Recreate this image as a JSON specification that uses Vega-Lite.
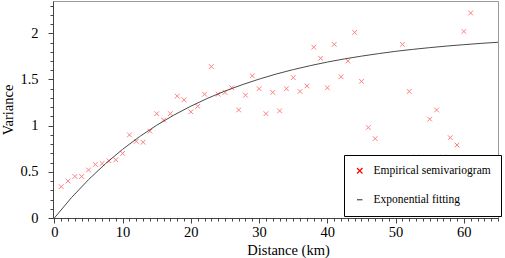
{
  "$schema": "https://vega.github.io/schema/vega-lite/v6.json",
  "width": 445,
  "height": 217,
  "autosize": {"type": "none"},
  "padding": {"left": 53, "top": 1, "right": 7, "bottom": 40},
  "background": "white",
  "config": {
    "view": {"stroke": "#9a9a9a", "strokeWidth": 1},
    "font": "Liberation Serif",
    "style": {"guide-label": {"font": "Liberation Serif"}, "guide-title": {"font": "Liberation Serif"}},
    "axis": {"grid": false, "labelFont": "Liberation Serif", "titleFont": "Liberation Serif", "labelColor": "#000", "titleColor": "#000", "domainColor": "#444", "tickColor": "#444", "labelFontSize": 14.5, "titleFontSize": 14.5, "titleFontWeight": "normal"},
    "legend": {"title": null, "orient": "none", "legendX": 291, "legendY": 154,
      "strokeColor": "#000", "fillColor": "#fff", "padding": 10, "rowPadding": 16,
      "labelFont": "Liberation Serif", "labelFontSize": 11.5, "labelColor": "#000", "labelOffset": 8,
      "symbolSize": 30, "symbolStrokeWidth": 1.2, "symbolOpacity": 1, "symbolFillColor": "transparent"}
  },
  "datasets": {
    "emp": [
      {"d": 1, "v": 0.34}, {"d": 2, "v": 0.40}, {"d": 3, "v": 0.45}, {"d": 4, "v": 0.45},
      {"d": 5, "v": 0.52}, {"d": 6, "v": 0.58}, {"d": 7, "v": 0.59}, {"d": 8, "v": 0.62},
      {"d": 9, "v": 0.63}, {"d": 10, "v": 0.70}, {"d": 11, "v": 0.90}, {"d": 12, "v": 0.83},
      {"d": 13, "v": 0.82}, {"d": 14, "v": 0.94}, {"d": 15, "v": 1.13}, {"d": 16, "v": 1.06},
      {"d": 17, "v": 1.13}, {"d": 18, "v": 1.32}, {"d": 19, "v": 1.28}, {"d": 20, "v": 1.15},
      {"d": 21, "v": 1.21}, {"d": 22, "v": 1.34}, {"d": 23, "v": 1.64}, {"d": 24, "v": 1.34},
      {"d": 25, "v": 1.36}, {"d": 26, "v": 1.41}, {"d": 27, "v": 1.17}, {"d": 28, "v": 1.33},
      {"d": 29, "v": 1.54}, {"d": 30, "v": 1.40}, {"d": 31, "v": 1.13}, {"d": 32, "v": 1.36},
      {"d": 33, "v": 1.16}, {"d": 34, "v": 1.40}, {"d": 35, "v": 1.52}, {"d": 36, "v": 1.37},
      {"d": 37, "v": 1.43}, {"d": 38, "v": 1.85}, {"d": 39, "v": 1.73}, {"d": 40, "v": 1.41},
      {"d": 41, "v": 1.88}, {"d": 42, "v": 1.53}, {"d": 43, "v": 1.70}, {"d": 44, "v": 2.01},
      {"d": 45, "v": 1.48}, {"d": 46, "v": 0.98}, {"d": 47, "v": 0.86}, {"d": 51, "v": 1.88},
      {"d": 52, "v": 1.37}, {"d": 53, "v": 0.66}, {"d": 55, "v": 1.07}, {"d": 56, "v": 1.17},
      {"d": 57, "v": 0.66}, {"d": 58, "v": 0.87}, {"d": 59, "v": 0.79}, {"d": 60, "v": 2.02},
      {"d": 61, "v": 2.22}
    ],
    "fit": [
      {"d": 0, "v": 0}, {"d": 2.5, "v": 0.220}, {"d": 5, "v": 0.415}, {"d": 7.5, "v": 0.589},
      {"d": 10, "v": 0.744}, {"d": 12.5, "v": 0.882}, {"d": 15, "v": 1.005}, {"d": 17.5, "v": 1.114},
      {"d": 20, "v": 1.211}, {"d": 22.5, "v": 1.298}, {"d": 25, "v": 1.375}, {"d": 27.5, "v": 1.443},
      {"d": 30, "v": 1.504}, {"d": 32.5, "v": 1.559}, {"d": 35, "v": 1.607}, {"d": 37.5, "v": 1.650},
      {"d": 40, "v": 1.689}, {"d": 42.5, "v": 1.723}, {"d": 45, "v": 1.753}, {"d": 47.5, "v": 1.780},
      {"d": 50, "v": 1.805}, {"d": 52.5, "v": 1.826}, {"d": 55, "v": 1.845}, {"d": 57.5, "v": 1.862},
      {"d": 60, "v": 1.877}, {"d": 62.5, "v": 1.891}, {"d": 65, "v": 1.903}
    ]
  },
  "layer": [
    {
      "data": {"name": "fit"},
      "mark": {"type": "line", "strokeWidth": 1, "clip": true},
      "encoding": {
        "x": {"field": "d", "type": "quantitative", "scale": {"domain": [-0.2, 65], "nice": false, "zero": false},
          "axis": {"orient": "bottom", "values": [0,1,2,3,4,5,6,7,8,9,10,11,12,13,14,15,16,17,18,19,20,21,22,23,24,25,26,27,28,29,30,31,32,33,34,35,36,37,38,39,40,41,42,43,44,45,46,47,48,49,50,51,52,53,54,55,56,57,58,59,60,61,62,63,64,65], "labels": false, "domain": false, "tickSize": 3, "title": null}},
        "y": {"field": "v", "type": "quantitative", "scale": {"domain": [0, 2.35], "nice": false},
          "axis": {"orient": "left", "values": [0,0.1,0.2,0.3,0.4,0.5,0.6,0.7,0.8,0.9,1,1.1,1.2,1.3,1.4,1.5,1.6,1.7,1.8,1.9,2,2.1,2.2,2.3], "labels": false, "domain": false, "tickSize": 3, "title": null}},
        "color": {"datum": "Exponential fitting", "type": "nominal",
          "scale": {"domain": ["Empirical semivariogram", "Exponential fitting"], "range": ["#ff0000", "#4a4a4a"]}}
      }
    },
    {
      "data": {"name": "emp"},
      "mark": {"type": "point", "filled": false, "strokeWidth": 1, "size": 22, "opacity": 0.5, "clip": true},
      "encoding": {
        "x": {"field": "d", "type": "quantitative", "scale": {"domain": [-0.2, 65], "nice": false, "zero": false},
          "axis": {"orient": "bottom", "values": [0, 10, 20, 30, 40, 50, 60], "tickSize": 5, "labelPadding": 2, "title": "Distance  (km)", "titleX": 235, "titleY": 25, "titleBaseline": "top", "titleAlign": "center", "labelFont": "Liberation Serif", "titleFont": "Liberation Serif"}},
        "y": {"field": "v", "type": "quantitative", "scale": {"domain": [0, 2.35], "nice": false},
          "axis": {"orient": "left", "values": [0, 0.5, 1, 1.5, 2], "format": "~g", "tickSize": 5, "labelPadding": 10, "title": "Variance", "titlePadding": 4, "labelFont": "Liberation Serif", "titleFont": "Liberation Serif"}},
        "color": {"datum": "Empirical semivariogram", "type": "nominal",
          "scale": {"domain": ["Empirical semivariogram", "Exponential fitting"], "range": ["#ff0000", "#4a4a4a"]}},
        "shape": {"datum": "Empirical semivariogram", "type": "nominal",
          "scale": {"domain": ["Empirical semivariogram", "Exponential fitting"], "range": ["M-1,-1L1,1M-1,1L1,-1", "stroke"]}}
      }
    }
  ],
  "resolve": {"axis": {"x": "independent", "y": "independent"}}
}
